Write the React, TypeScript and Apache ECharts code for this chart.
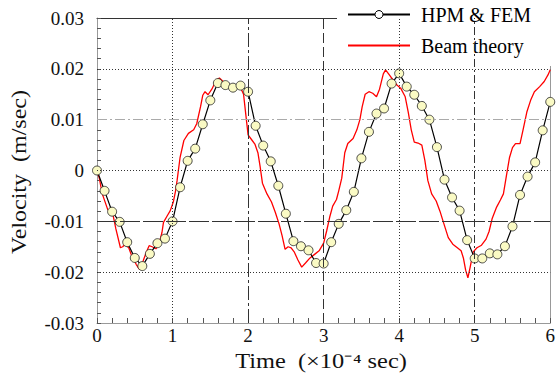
import React, { useEffect, useRef } from "react";
import * as echarts from "echarts";

// HPM & FEM (time in 1e-4 s, velocity in m/s)
const hpmTime = [
  0, 0.1, 0.2, 0.3, 0.4, 0.5, 0.6, 0.7, 0.8, 0.9, 1.0,
  1.1, 1.2, 1.3, 1.4, 1.5, 1.6, 1.7, 1.8, 1.9, 2.0,
  2.1, 2.2, 2.3, 2.4, 2.5, 2.6, 2.7, 2.8, 2.9, 3.0,
  3.1, 3.2, 3.3, 3.4, 3.5, 3.6, 3.7, 3.8, 3.9, 4.0,
  4.1, 4.2, 4.3, 4.4, 4.5, 4.6, 4.7, 4.8, 4.9, 5.0,
  5.1, 5.2, 5.3, 5.4, 5.5, 5.6, 5.7, 5.8, 5.9, 6.0,
];
const hpmVel = [
  0, -0.004, -0.0081, -0.0101, -0.0141, -0.0172, -0.0188, -0.0164, -0.0143, -0.0134, -0.01,
  -0.0033, 0.0019, 0.0043, 0.0091, 0.0138, 0.0172, 0.0168, 0.0163, 0.0167, 0.0155,
  0.0088, 0.0049, 0.0018, -0.003, -0.0085, -0.0139, -0.0149, -0.0157, -0.0182, -0.0183,
  -0.0141, -0.0105, -0.0078, -0.0042, 0.0024, 0.0076, 0.0112, 0.0122, 0.0171, 0.0191,
  0.0165, 0.0149, 0.0127, 0.01, 0.0046, -0.0018, -0.0053, -0.0079, -0.0137, -0.0173,
  -0.0173, -0.0163, -0.0165, -0.0149, -0.011, -0.0048, -0.0012, 0.0016, 0.0079, 0.0135,
];

// Beam theory
const beamTime = [
  0, 0.03, 0.07, 0.14, 0.18, 0.21, 0.25, 0.31, 0.34, 0.37, 0.42, 0.46, 0.52, 0.56,
  0.61, 0.65, 0.69, 0.73, 0.78, 0.82, 0.86, 0.88, 0.93, 0.97, 1.01, 1.04, 1.06, 1.1,
  1.15, 1.21, 1.28, 1.32, 1.37, 1.4, 1.43, 1.47, 1.52, 1.58, 1.62, 1.67, 1.72, 1.8,
  1.86, 1.91, 1.94, 1.97, 2.0, 2.05, 2.09, 2.13, 2.16, 2.19, 2.25, 2.31, 2.36, 2.41,
  2.45, 2.49, 2.53, 2.57, 2.61, 2.66, 2.71, 2.76, 2.82, 2.88, 2.94, 3.0, 3.04, 3.08,
  3.12, 3.17, 3.2, 3.24, 3.28, 3.32, 3.39, 3.44, 3.48, 3.51, 3.55, 3.6, 3.65, 3.7,
  3.74, 3.79, 3.82, 3.86, 3.91, 3.97, 4.02, 4.08, 4.12, 4.16, 4.2, 4.25, 4.3, 4.34,
  4.38, 4.43, 4.49, 4.54, 4.58, 4.65, 4.71, 4.77, 4.82, 4.85, 4.88, 4.91, 4.94, 4.98,
  5.03, 5.09, 5.15, 5.19, 5.23, 5.29, 5.34, 5.38, 5.42, 5.46, 5.5, 5.54, 5.6, 5.64,
  5.69, 5.74, 5.79, 5.86, 5.92, 5.97, 6.0,
];
const beamVel = [
  0, -0.0015, -0.0046, -0.0076, -0.0084, -0.0086, -0.0115, -0.0152, -0.015, -0.0145, -0.0152, -0.0168, -0.0185, -0.0194,
  -0.0178, -0.0162, -0.0148, -0.015, -0.0154, -0.0145, -0.0122, -0.0102, -0.0089, -0.0079, -0.0062, -0.004, -0.002, 0.0026,
  0.0059, 0.0073, 0.008, 0.0092, 0.0125, 0.0148, 0.0155, 0.0149, 0.016, 0.0178, 0.0182, 0.0175, 0.0168, 0.0167,
  0.0165, 0.016, 0.015, 0.011, 0.007, 0.006, 0.0052, 0.0035, 0.0007, -0.0025, -0.0046, -0.0062, -0.0082, -0.0105,
  -0.0128, -0.0155, -0.015, -0.0152, -0.016, -0.0176, -0.019, -0.0182, -0.0172, -0.0165, -0.0158, -0.0143, -0.0119, -0.0092,
  -0.007, -0.0057, -0.004, -0.0015, 0.0035, 0.0053, 0.0063, 0.008, 0.01, 0.0125, 0.015, 0.0155, 0.0152, 0.0145,
  0.016, 0.019, 0.0198, 0.019, 0.018, 0.0168, 0.0162, 0.0145, 0.0115, 0.008, 0.0056, 0.0054, 0.005, 0.002,
  -0.002, -0.0046, -0.006, -0.008, -0.0099, -0.0132, -0.0145, -0.0152, -0.0158, -0.0172, -0.0196, -0.0211, -0.019, -0.016,
  -0.0152, -0.0147, -0.0135, -0.012, -0.0095, -0.0072, -0.0058, -0.0046, -0.001, 0.0025, 0.0045, 0.0053, 0.0053, 0.008,
  0.0115, 0.0138, 0.0155, 0.0165, 0.0175, 0.0188, 0.0198,
];

const seriesNames = ["HPM & FEM", "Beam theory"];
const xTitle = "Time  (×10⁻⁴ sec)";
const yTitle = "Velocity  (m/sec)";
const xGridValues = [1, 2, 3, 4, 5];
const yGridValues = [0.02, 0.01, 0, -0.01, -0.02];

const FONT = "Liberation Serif";

const xGridStyles: any[] = [
  { type: [1, 2], color: "#333" },
  { type: [14, 3, 3, 3], color: "#333" },
  { type: [10, 4], color: "#333" },
  { type: [1, 2], color: "#333" },
  { type: [8, 3, 2, 3], color: "#333" },
];
const yGridStyles: any[] = [
  { type: [1, 2], color: "#333" },
  { type: [10, 3, 2, 3], color: "#aaa" },
  { type: [1, 2], color: "#333" },
  { type: [20, 3], color: "#333" },
  { type: [1, 2], color: "#333" },
];

export default function App() {
  const ref = useRef<HTMLDivElement>(null);
  useEffect(() => {
    if (!ref.current) return;
    const chart = echarts.init(ref.current, undefined, { renderer: "svg" });
    const hpmData = hpmTime.map((t, i) => [t, hpmVel[i]]);
    const beamData = beamTime.map((t, i) => [t, beamVel[i]]);
    const gridMarks = [
      ...xGridValues.map((v, i) => ({ xAxis: v, lineStyle: { width: 1, ...xGridStyles[i] } })),
      ...yGridValues.map((v, i) => ({ yAxis: v, lineStyle: { width: 1, ...yGridStyles[i] } })),
    ];
    const tickFmt = (v: number) => (Math.abs(v) < 1e-9 ? "0" : v.toFixed(2));
    chart.setOption({
      animation: false,
      textStyle: { fontFamily: FONT },
      grid: { left: 97, right: 7, top: 18, bottom: 62 },
      legend: {
        orient: "vertical",
        left: 337,
        top: 0,
        padding: [4, 20, 10, 10],
        backgroundColor: "#fff",
        itemWidth: 62,
        itemHeight: 10,
        itemGap: 10,
        data: [
          { name: seriesNames[0], itemStyle: { color: "#fff", borderColor: "#000", borderWidth: 1 } },
          { name: seriesNames[1], itemStyle: { color: "transparent", borderWidth: 0, opacity: 0 } },
        ],
        textStyle: { fontFamily: FONT, fontSize: 20, color: "#000", lineHeight: 21, padding: [0, 0, 0, 6] },
      },
      xAxis: [
        {
          type: "value",
          min: 0,
          max: 6,
          interval: 1,
          axisLine: { onZero: false, lineStyle: { color: "#999", width: 1 } },
          axisTick: { inside: true, length: 5, lineStyle: { color: "#555" } },
          minorTick: { show: true, splitNumber: 5, length: 5, lineStyle: { color: "#555" } },
          splitLine: { show: false },
          axisLabel: { margin: 3, fontFamily: FONT, fontSize: 19, color: "#111" },
        },
        {
          type: "value",
          position: "top",
          min: 0,
          max: 6,
          interval: 1,
          axisLine: { show: true, onZero: false, lineStyle: { color: "#333", width: 1 } },
          axisTick: { show: false },
          axisLabel: { show: false },
          splitLine: { show: false },
        },
      ],
      yAxis: [
        {
          type: "value",
          min: -0.03,
          max: 0.03,
          interval: 0.01,
          axisLine: { show: true, onZero: false, lineStyle: { color: "#999", width: 1 } },
          axisTick: { show: true, inside: true, length: 4, lineStyle: { color: "#555" } },
          minorTick: { show: true, splitNumber: 5, length: 4, lineStyle: { color: "#555" } },
          splitLine: { show: false },
          axisLabel: { margin: 13, fontFamily: FONT, fontSize: 19, color: "#111", formatter: tickFmt },
        },
        {
          type: "value",
          position: "right",
          min: -0.03,
          max: 0.03,
          interval: 0.01,
          axisLine: { show: true, onZero: false, lineStyle: { color: "#999", width: 1 } },
          axisTick: { show: false },
          axisLabel: { show: false },
          splitLine: { show: false },
        },
      ],
      graphic: [
        {
          type: "text",
          x: 321,
          y: 361,
          scaleX: 1.22,
          style: {
            text: xTitle,
            fontFamily: FONT,
            fontSize: 20,
            fill: "#111",
            textAlign: "center",
            textVerticalAlign: "middle",
          },
        },
        {
          type: "text",
          x: 19,
          y: 172,
          rotation: Math.PI / 2,
          scaleX: 1.2,
          style: {
            text: yTitle,
            fontFamily: FONT,
            fontSize: 20,
            fill: "#111",
            textAlign: "center",
            textVerticalAlign: "middle",
          },
        },
      ],
      series: [
        {
          name: "grid",
          type: "line",
          data: [],
          z: 1,
          silent: true,
          markLine: {
            silent: true,
            symbol: ["none", "none"],
            label: { show: false },
            animation: false,
            data: gridMarks,
          },
        },
        {
          name: seriesNames[1],
          type: "line",
          data: beamData,
          showSymbol: false,
          symbol: "none",
          z: 2,
          itemStyle: { color: "#ff0000" },
          lineStyle: { color: "#ff0000", width: 1.3 },
        },
        {
          name: seriesNames[0],
          type: "line",
          data: hpmData,
          symbol: "circle",
          symbolSize: 9,
          z: 3,
          itemStyle: { color: "#fafac4", borderColor: "#222", borderWidth: 0.8 },
          lineStyle: { color: "#000", width: 1.2 },
        },
      ],
    });
    return () => chart.dispose();
  }, []);
  return (
    <div
      ref={ref}
      style={{ position: "fixed", left: 0, top: 0, width: 558, height: 385, background: "#fff" }}
    />
  );
}
